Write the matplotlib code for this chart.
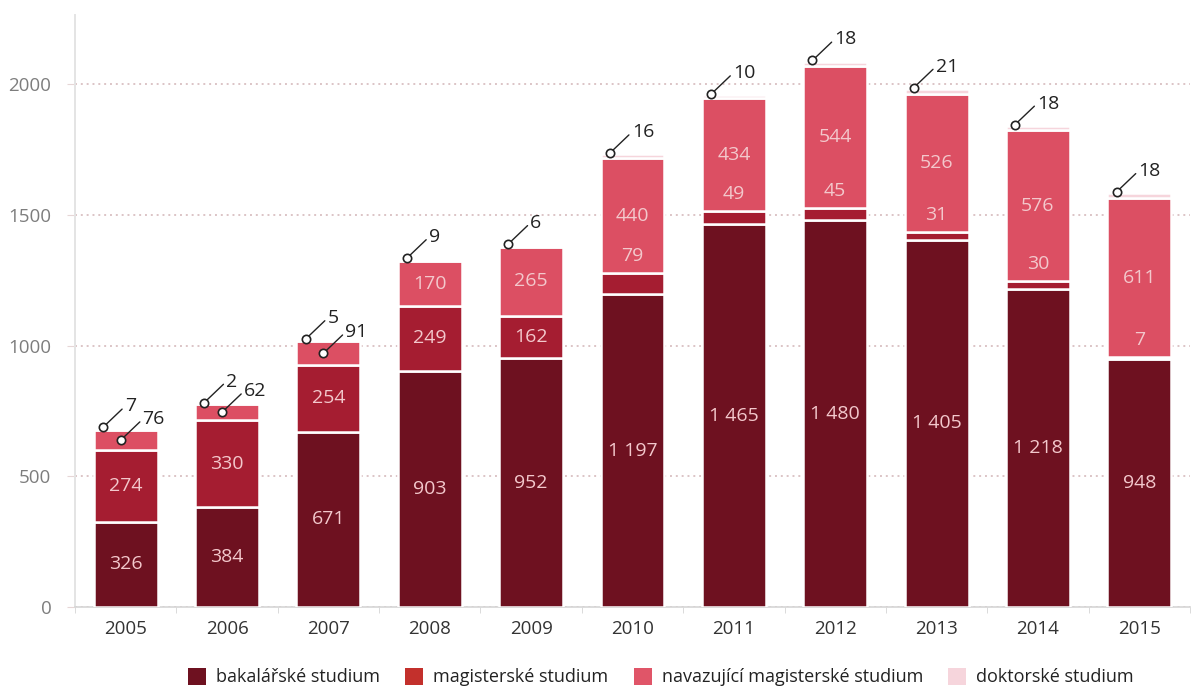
import matplotlib
matplotlib.use("Agg")
import matplotlib.pyplot as plt
from matplotlib.patches import Patch
import numpy as np

plt.rcParams['font.family'] = ['Open Sans', 'DejaVu Sans']

# data
years = ['2005', '2006', '2007', '2008', '2009', '2010', '2011', '2012', '2013', '2014', '2015']
bakalarske = [326, 384, 671, 903, 952, 1197, 1465, 1480, 1405, 1218, 948]
magisterske = [274, 330, 254, 249, 162, 79, 49, 45, 31, 30, 7]
navazujici = [76, 62, 91, 170, 265, 440, 434, 544, 526, 576, 611]
doktorske = [7, 2, 5, 9, 6, 16, 10, 18, 21, 18, 18]

series_names = ['bakalářské studium', 'magisterské studium',
                'navazující magisterské studium', 'doktorské studium']
bar_colors = ['#6e1120', '#a51d31', '#dc4f63', '#f6d5dc']
legend_colors = ['#6e1120', '#c3302c', '#e05568', '#f6d5dc']

def fmt(v):
    return f"{v:,}".replace(",", " ")

fig = plt.figure(figsize=(11.97, 6.89), dpi=100)
ax = fig.add_axes([75 / 1197, 82 / 689, 1115 / 1197, 592 / 689])

x = np.arange(len(years))
w = 0.63
series = [bakalarske, magisterske, navazujici, doktorske]
bottom = np.zeros(len(years))
bottoms = []
for vals, col in zip(series, bar_colors):
    vals = np.array(vals, dtype=float)
    bottoms.append(bottom.copy())
    ax.bar(x, vals, w, bottom=bottom, color=col, edgecolor='white', linewidth=1.8, zorder=3)
    bottom = bottom + vals
totals = bottom

lab_col = '#f3c8cc'
lab_size = 14

def callout(xp, yp, text):
    ax.annotate(text, xy=(xp, yp), xytext=(22, 21), textcoords='offset pixels',
                ha='left', va='center', fontsize=14, color='#222222',
                arrowprops=dict(arrowstyle='-', color='#222222', lw=1,
                                shrinkA=0, shrinkB=0, relpos=(0, 0.5)),
                zorder=6)
    ax.plot([xp], [yp], marker='o', ms=6, mfc='white', mec='#222222', mew=1.2,
            zorder=7, clip_on=False)

for i in range(len(years)):
    # bakalarske
    b = bottoms[0][i]
    ax.text(x[i], b + bakalarske[i] / 2, fmt(bakalarske[i]), ha='center', va='center',
            color=lab_col, fontsize=lab_size, zorder=5)
    # magisterske
    b = bottoms[1][i]
    if magisterske[i] >= 100:
        ax.text(x[i], b + magisterske[i] / 2, fmt(magisterske[i]), ha='center', va='center',
                color=lab_col, fontsize=lab_size, zorder=5)
    else:
        ax.annotate(fmt(magisterske[i]), xy=(x[i], b + magisterske[i]), xytext=(0, 17),
                    textcoords='offset pixels', ha='center', va='center',
                    color=lab_col, fontsize=lab_size, zorder=5)
    # navazujici
    b = bottoms[2][i]
    if navazujici[i] >= 100:
        ax.text(x[i], b + navazujici[i] / 2, fmt(navazujici[i]), ha='center', va='center',
                color=lab_col, fontsize=lab_size, zorder=5)
    else:
        callout(x[i] - 0.05, b + navazujici[i] / 2, fmt(navazujici[i]))
    # doktorske
    callout(x[i] - w / 2 + 0.09, totals[i] + 4, fmt(doktorske[i]))

ax.set_xlim(-0.50, 10.35)
ax.set_ylim(0, 2265)
ax.set_yticks([0, 500, 1000, 1500, 2000])
ax.set_xticks(x)
ax.set_xticklabels(years)
ax.set_xticks(np.arange(-0.5, len(years) - 0.4, 1), minor=True)

ax.grid(axis='y', linestyle=(0, (1, 2)), color='#dcc4c6', linewidth=1.4, zorder=0)
ax.tick_params(axis='y', length=6, color='#e6d6d6', labelsize=13.5, labelcolor='#7d7d7d', pad=11)
ax.tick_params(axis='x', which='major', length=0, labelsize=13.5, labelcolor='#333333', pad=9)
ax.tick_params(axis='x', which='minor', length=4, color='#d5d5d5')

for s in ['top', 'right']:
    ax.spines[s].set_visible(False)
ax.spines['left'].set_color('#e4e4e4')
ax.spines['left'].set_linewidth(1.4)
ax.spines['bottom'].set_color('#d5d5d5')
ax.spines['bottom'].set_linewidth(1.2)

handles = [Patch(facecolor=c, edgecolor='none') for c in legend_colors]
fig.legend(handles, series_names, loc='center', bbox_to_anchor=(661 / 1197, 12 / 689),
           ncol=4, frameon=False, fontsize=13, handlelength=1.0, handleheight=1.1,
           handletextpad=0.55, columnspacing=1.4, labelcolor='#222222')

fig.savefig('out.png', dpi=100)
